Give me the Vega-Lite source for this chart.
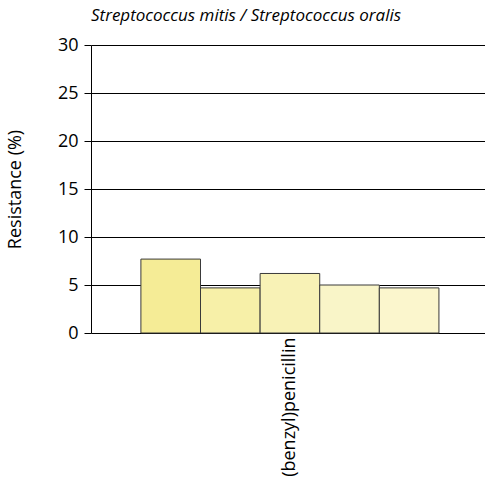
{
  "$schema": "https://vega.github.io/schema/vega-lite/v6.json",
  "width": 394,
  "height": 288,
  "autosize": "none",
  "padding": {"left": 91, "top": 45, "right": 0, "bottom": 155},
  "background": "white",
  "title": {
    "text": "Streptococcus mitis / Streptococcus oralis",
    "anchor": "start",
    "frame": "group",
    "font": "Open Sans",
    "fontStyle": "italic",
    "fontWeight": "normal",
    "fontSize": 17,
    "color": "black",
    "offset": 11
  },
  "config": {
    "view": {"stroke": null},
    "font": "Open Sans"
  },
  "data": {
    "values": [
      {"antibiotic": "(benzyl)penicillin", "period": "1", "resistance": 7.7},
      {"antibiotic": "(benzyl)penicillin", "period": "2", "resistance": 4.7},
      {"antibiotic": "(benzyl)penicillin", "period": "3", "resistance": 6.2},
      {"antibiotic": "(benzyl)penicillin", "period": "4", "resistance": 5.0},
      {"antibiotic": "(benzyl)penicillin", "period": "5", "resistance": 4.7}
    ]
  },
  "mark": {"type": "bar", "stroke": "#3a3a3a", "strokeWidth": 1},
  "encoding": {
    "x": {
      "field": "antibiotic",
      "type": "nominal",
      "scale": {"paddingInner": 0, "paddingOuter": 0.161, "align": 0.52},
      "axis": {
        "title": null,
        "domain": false,
        "ticks": false,
        "labelAngle": -90,
        "labelFontSize": 18,
        "labelColor": "black",
        "labelPadding": 4,
        "labelFont": "Open Sans"
      }
    },
    "xOffset": {"field": "period", "type": "nominal", "scale": {"paddingInner": 0}},
    "y": {
      "field": "resistance",
      "type": "quantitative",
      "scale": {"domain": [0, 30], "nice": false},
      "axis": {
        "title": "Resistance (%)",
        "titleFontSize": 18,
        "titleFontWeight": "normal",
        "titleColor": "black",
        "titlePadding": 33,
        "titleFont": "Open Sans",
        "values": [0, 5, 10, 15, 20, 25, 30],
        "labelFontSize": 18,
        "labelColor": "black",
        "labelFont": "Open Sans",
        "labelPadding": 6,
        "tickSize": 7,
        "tickColor": "black",
        "domainColor": "black",
        "grid": true,
        "gridColor": "black",
        "gridOpacity": 1,
        "gridWidth": 1
      }
    },
    "color": {
      "field": "period",
      "type": "nominal",
      "scale": {"range": ["#f5ec96", "#f7f0a8", "#f8f2b6", "#f9f5c8", "#fbf6cd"]},
      "legend": null
    }
  }
}
